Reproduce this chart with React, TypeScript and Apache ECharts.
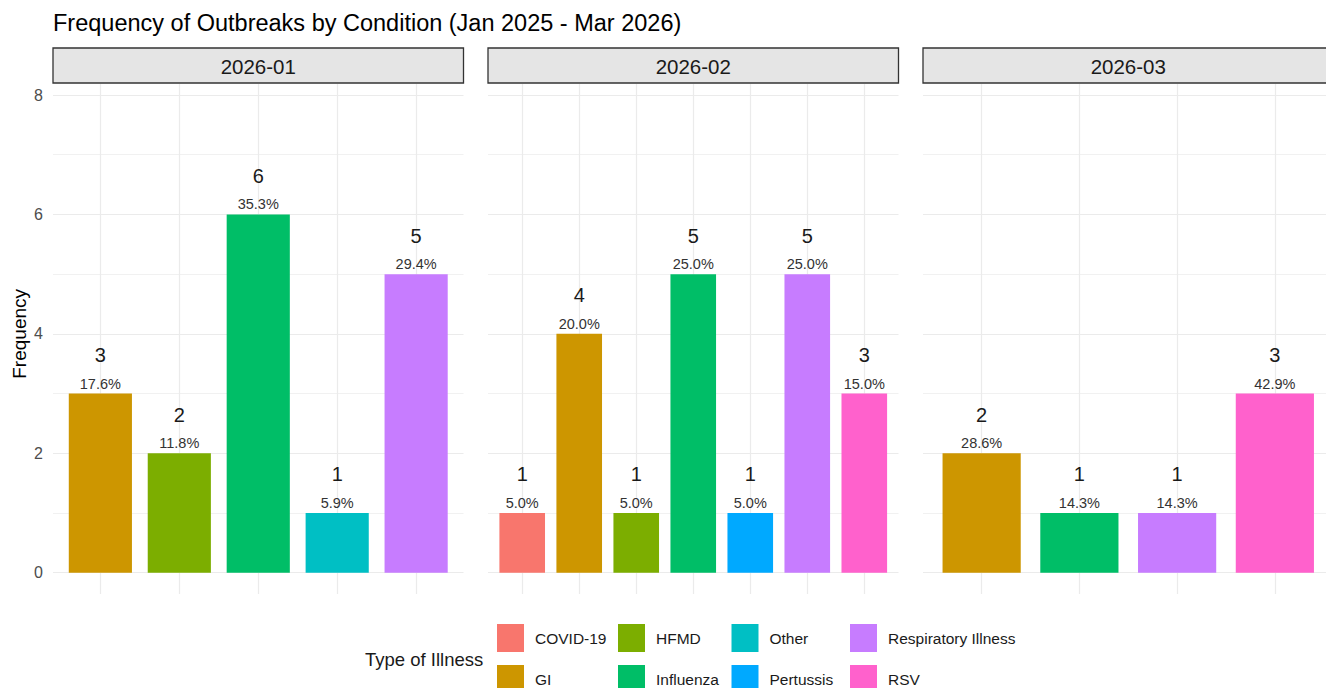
import React, { useEffect, useRef } from "react";
import * as echarts from "echarts";

// ---------- data ----------
const chartTitle = "Frequency of Outbreaks by Condition (Jan 2025 - Mar 2026)";
const months = ["2026-01", "2026-02", "2026-03"];
const illnesses = ["COVID-19", "GI", "HFMD", "Influenza", "Other", "Pertussis", "Respiratory Illness", "RSV"];
const illnessColors = ["#F8766D", "#CD9600", "#7CAE00", "#00BE67", "#00BFC4", "#00A9FF", "#C77CFF", "#FF61CC"];

const jan2026Categories = ["GI", "HFMD", "Influenza", "Other", "Respiratory Illness"];
const jan2026Counts = [3, 2, 6, 1, 5];
const feb2026Categories = ["COVID-19", "GI", "HFMD", "Influenza", "Pertussis", "Respiratory Illness", "RSV"];
const feb2026Counts = [1, 4, 1, 5, 1, 5, 3];
const mar2026Categories = ["GI", "Influenza", "Respiratory Illness", "RSV"];
const mar2026Counts = [2, 1, 1, 3];

const yMin = 0;
const yMax = 8;
const yInterval = 2;

const legendColumns = [
  ["COVID-19", "GI"],
  ["HFMD", "Influenza"],
  ["Other", "Pertussis"],
  ["Respiratory Illness", "RSV"],
];

// ---------- layout ----------
const FONT = "'Liberation Sans', Arial, Helvetica, sans-serif";
const PANEL_LEFTS = [53, 488, 923];
const PANEL_W = 410.5;
const PLOT_TOP = 95;
const PLOT_BOTTOM = 572.7;
const STRIP_TOP = 48;
const STRIP_H = 35;
const VLINE_TOP = 84;
const VLINE_BOTTOM = 594;
const GRID_COLOR = "#EBEBEB";
const LEGEND_LEFTS = [497, 618, 731.5, 850];
const LEGEND_TOP = 624;

function buildOption() {
  const panels = [
    { cats: jan2026Categories, counts: jan2026Counts },
    { cats: feb2026Categories, counts: feb2026Counts },
    { cats: mar2026Categories, counts: mar2026Counts },
  ];
  const grid: any[] = [];
  const xAxis: any[] = [];
  const yAxis: any[] = [];
  const series: any[] = [];
  const graphic: any[] = [];

  panels.forEach((p, i) => {
    const L = PANEL_LEFTS[i];
    const n = p.cats.length;
    const u = PANEL_W / (n + 0.2);
    const total = p.counts.reduce((a, b) => a + b, 0);

    // horizontal gridlines grid
    let gi = grid.length;
    grid.push({ left: L, top: PLOT_TOP, width: PANEL_W, height: PLOT_BOTTOM - PLOT_TOP });
    xAxis.push({ gridIndex: gi, type: "value", min: 0, max: 1, show: false });
    yAxis.push({
      gridIndex: gi,
      type: "value",
      min: yMin,
      max: yMax,
      interval: yInterval,
      axisLine: { show: false },
      axisTick: { show: false },
      axisLabel: { show: i === 0, color: "#4D4D4D", fontSize: 16, fontFamily: FONT, margin: 10 },
      splitLine: { show: true, lineStyle: { color: GRID_COLOR, width: 1.2 } },
      minorTick: { show: false, splitNumber: 2 },
      minorSplitLine: { show: true, lineStyle: { color: GRID_COLOR, width: 0.7 } },
      name: i === 0 ? "Frequency" : "",
      nameLocation: "middle",
      nameGap: 24,
      nameRotate: 90,
      nameTextStyle: { fontSize: 19, color: "#000", fontFamily: FONT },
    });

    // vertical gridlines grid (first category centre to last category centre)
    gi = grid.length;
    grid.push({ left: L + 0.6 * u, width: (n - 1) * u, top: VLINE_TOP, height: VLINE_BOTTOM - VLINE_TOP });
    xAxis.push({
      gridIndex: gi,
      type: "category",
      data: p.cats,
      boundaryGap: false,
      axisLine: { show: false },
      axisTick: { show: false },
      axisLabel: { show: false, interval: 0 },
      splitLine: { show: true, interval: 0, lineStyle: { color: GRID_COLOR, width: 1.2 } },
    });
    yAxis.push({ gridIndex: gi, type: "value", min: 0, max: 1, show: false, splitLine: { show: false } });

    // bars grid
    gi = grid.length;
    grid.push({ left: L + 0.1 * u, width: n * u, top: PLOT_TOP, height: PLOT_BOTTOM - PLOT_TOP });
    xAxis.push({ gridIndex: gi, type: "category", data: p.cats, show: false });
    yAxis.push({ gridIndex: gi, type: "value", min: yMin, max: yMax, show: false, splitLine: { show: false } });

    p.cats.forEach((c, k) => {
      const color = illnessColors[illnesses.indexOf(c)];
      const pct = ((p.counts[k] / total) * 100).toFixed(1) + "%";
      series.push({
        type: "bar",
        name: c,
        xAxisIndex: gi,
        yAxisIndex: gi,
        barWidth: "80%",
        barGap: "-100%",
        itemStyle: { color },
        data: p.cats.map((_, kk) => (kk === k ? p.counts[kk] : "-")),
        label: {
          show: true,
          position: "top",
          distance: 2,
          formatter: () => `{c|${p.counts[k]}}\n{p|${pct}}`,
          rich: {
            c: { fontSize: 20, lineHeight: 41, color: "#1a1a1a", fontFamily: FONT },
            p: { fontSize: 14.5, lineHeight: 16, color: "#333333", fontFamily: FONT },
          },
        },
      });
    });

    // facet strip
    graphic.push({
      type: "rect",
      silent: true,
      shape: { x: L, y: STRIP_TOP, width: PANEL_W, height: STRIP_H },
      style: { fill: "#E5E5E5", stroke: "#333333", lineWidth: 1.3 },
    });
    graphic.push({
      type: "text",
      silent: true,
      x: L + PANEL_W / 2,
      y: STRIP_TOP + STRIP_H / 2 + 1,
      style: {
        text: months[i],
        fill: "#1a1a1a",
        fontSize: 20.5,
        fontFamily: FONT,
        align: "center",
        verticalAlign: "middle",
      },
    });
  });

  graphic.push({
    type: "text",
    silent: true,
    x: 365,
    y: 659,
    style: {
      text: "Type of Illness",
      fill: "#1a1a1a",
      fontSize: 18.5,
      fontFamily: FONT,
      align: "left",
      verticalAlign: "middle",
    },
  });

  const legend = legendColumns.map((col, ci) => ({
    orient: "vertical",
    left: LEGEND_LEFTS[ci],
    top: LEGEND_TOP,
    height: 120,
    padding: 0,
    itemWidth: 27,
    itemHeight: 28,
    itemGap: 13,
    icon: "rect",
    data: col,
    selectedMode: false,
    textStyle: { fontSize: 15.5, color: "#1a1a1a", fontFamily: FONT, padding: [0, 0, 0, 6] },
  }));

  return {
    animation: false,
    backgroundColor: "#ffffff",
    title: {
      text: chartTitle,
      left: 53,
      top: 11,
      padding: 0,
      textStyle: { fontSize: 23.5, fontWeight: "normal", color: "#000", fontFamily: FONT },
    },
    legend,
    grid,
    xAxis,
    yAxis,
    series,
    graphic,
  };
}

export default function App() {
  const ref = useRef<HTMLDivElement>(null);
  useEffect(() => {
    if (!ref.current) return;
    const chart = echarts.init(ref.current, undefined, { renderer: "svg" });
    chart.setOption(buildOption() as any);
    return () => chart.dispose();
  }, []);
  return (
    <div
      ref={ref}
      style={{ position: "fixed", left: 0, top: 0, width: 1326, height: 688, background: "#fff" }}
    />
  );
}
